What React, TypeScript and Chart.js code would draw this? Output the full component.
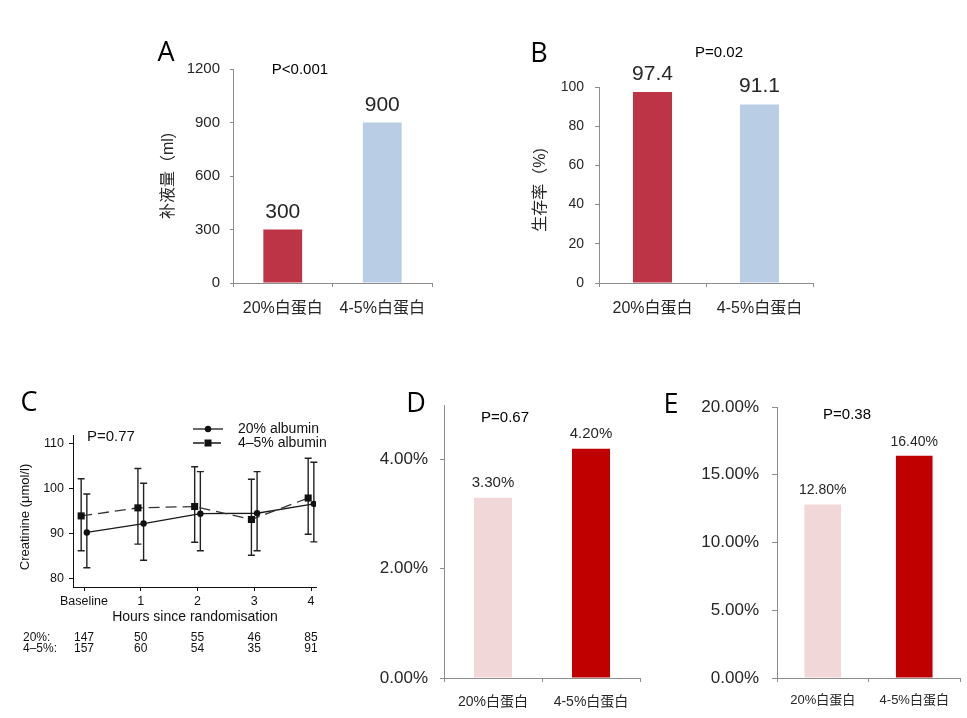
import React, { useEffect, useRef } from "react";
import { Chart, registerables } from "chart.js";
Chart.register(...registerables);

const PAGE_W = 967;
const PAGE_H = 718;
const SANS = "'Liberation Sans', Arial, 'Noto Sans CJK SC', sans-serif";
const LETTER = "'Open Sans', 'Liberation Sans', sans-serif";
const TEXT = "#262626";
const AXIS = "#8c8c8c";

// ---- Panel A: fluid volume ----
const groupLabels = ["20%白蛋白", "4-5%白蛋白"];
const fluidValues = [300, 900];
const fluidTicks = [0, 300, 600, 900, 1200];

// ---- Panel B: survival ----
const survivalValues = [97.4, 91.1];
const survivalTicks = [0, 20, 40, 60, 80, 100];

// ---- Panel C: creatinine ----
const hourLabels = ["Baseline", "1", "2", "3", "4"];
const creat20 = [90.2, 92.2, 94.4, 94.5, 96.6];
const creat20Low = [82.3, 84.0, 86.1, 86.1, 88.1];
const creat20High = [98.8, 101.2, 103.8, 103.8, 105.9];
const creat45 = [93.9, 95.7, 96.0, 93.1, 97.9];
const creat45Low = [86.1, 87.6, 88.0, 85.1, 89.8];
const creat45High = [102.2, 104.5, 104.9, 102.1, 106.8];
const n20 = [147, 50, 55, 46, 85];
const n45 = [157, 60, 54, 35, 91];
const creatTicks = [80, 90, 100, 110];

// ---- Panel D ----
const dValues = [3.3, 4.2];
const dTicks = [0, 2, 4];

// ---- Panel E ----
const eValues = [12.8, 16.4];
const eTicks = [0, 5, 10, 15, 20];

type Area = { l: number; t: number; r: number; b: number };
type TextItem = {
  text: string;
  x: number;
  y: number;
  font: string;
  color?: string;
  align?: CanvasTextAlign;
  rotate?: boolean;
};

const XH = 40;

function fixedLayout(a: Area, yw: number) {
  return {
    padding: {
      left: a.l - yw,
      top: a.t,
      right: PAGE_W - a.r,
      bottom: PAGE_H - a.b - XH,
    },
  };
}

function drawTexts(ctx: CanvasRenderingContext2D, items: TextItem[]) {
  items.forEach((it) => {
    ctx.save();
    ctx.font = it.font;
    ctx.fillStyle = it.color || TEXT;
    ctx.textAlign = it.align || "center";
    ctx.textBaseline = "middle";
    ctx.translate(it.x, it.y);
    if (it.rotate) ctx.rotate(-Math.PI / 2);
    ctx.fillText(it.text, 0, 0);
    ctx.restore();
  });
}

const textPlugin = (items: TextItem[]) => ({
  id: "texts",
  afterDraw(chart: any) {
    drawTexts(chart.ctx, items);
  },
});

interface BarPanel {
  area: Area;
  yw: number;
  values: number[];
  colors: string[];
  yMax: number;
  ticks: number[];
  yFmt: (v: number) => string;
  valFmt: (v: number) => string;
  yTickFont: number;
  xTickFont: number;
  valFont: number;
  valOffset: number;
  barPct: number;
  yTickPad: number;
  xTickPad: number;
  yTickLen: number;
  xTickLen: number;
  texts: TextItem[];
}

function barConfig(p: BarPanel): any {
  return {
    type: "bar",
    data: {
      labels: groupLabels,
      datasets: [
        {
          data: p.values,
          backgroundColor: p.colors,
          barPercentage: p.barPct,
          categoryPercentage: 1,
          borderWidth: 0,
        },
      ],
    },
    options: {
      animation: false,
      responsive: false,
      events: [],
      layout: fixedLayout(p.area, p.yw),
      plugins: {
        legend: { display: false },
        tooltip: { enabled: false },
        title: { display: false },
      },
      scales: {
        x: {
          grid: {
            offset: true,
            drawOnChartArea: false,
            drawTicks: true,
            tickLength: p.xTickLen,
            color: AXIS,
            lineWidth: 1,
          },
          border: { display: true, color: AXIS, width: 1 },
          ticks: {
            font: { family: SANS, size: p.xTickFont },
            color: TEXT,
            padding: p.xTickPad,
            maxRotation: 0,
            autoSkip: false,
          },
          afterFit: (s: any) => {
            s.height = XH;
          },
        },
        y: {
          min: 0,
          max: p.yMax,
          afterBuildTicks: (s: any) => {
            s.ticks = p.ticks.map((v) => ({ value: v }));
          },
          grid: {
            drawOnChartArea: false,
            drawTicks: true,
            tickLength: p.yTickLen,
            color: AXIS,
          },
          border: { display: true, color: AXIS, width: 1 },
          ticks: {
            font: { family: SANS, size: p.yTickFont },
            color: TEXT,
            padding: p.yTickPad,
            callback: (v: any) => p.yFmt(Number(v)),
          },
          afterFit: (s: any) => {
            s.width = p.yw;
          },
        },
      },
    },
    plugins: [
      {
        id: "barLabels",
        afterDatasetsDraw(chart: any) {
          const ctx = chart.ctx;
          const meta = chart.getDatasetMeta(0);
          ctx.save();
          ctx.font = `${p.valFont}px ${SANS}`;
          ctx.fillStyle = TEXT;
          ctx.textAlign = "center";
          ctx.textBaseline = "middle";
          meta.data.forEach((el: any, i: number) => {
            ctx.fillText(p.valFmt(p.values[i]), el.x, el.y - p.valOffset);
          });
          ctx.restore();
        },
      },
      textPlugin(p.texts),
    ],
  };
}

const pct = (v: number) => v.toFixed(2) + "%";

const panelA = barConfig({
  area: { l: 233, t: 69, r: 432, b: 283 },
  yw: 80,
  values: fluidValues,
  colors: ["#BE3447", "#B9CDE5"],
  yMax: 1200,
  ticks: fluidTicks,
  yFmt: (v) => String(v),
  valFmt: (v) => String(v),
  yTickFont: 15,
  xTickFont: 16,
  valFont: 21,
  valOffset: 17,
  barPct: 0.39,
  yTickPad: 10,
  xTickPad: 12,
  yTickLen: 3,
  xTickLen: 4,
  texts: [
    { text: "A", x: 166, y: 53, font: `27px ${LETTER}`, color: "#000" },
    { text: "P<0.001", x: 300, y: 70, font: `15px ${SANS}`, color: "#000" },
    { text: "补液量（ml)", x: 169, y: 176, font: `16px ${SANS}`, rotate: true },
  ],
});

const panelB = barConfig({
  area: { l: 599, t: 87, r: 813, b: 283 },
  yw: 80,
  values: survivalValues,
  colors: ["#BE3447", "#B9CDE5"],
  yMax: 100,
  ticks: survivalTicks,
  yFmt: (v) => String(v),
  valFmt: (v) => v.toFixed(1),
  yTickFont: 14,
  xTickFont: 16,
  valFont: 21,
  valOffset: 18,
  barPct: 0.365,
  yTickPad: 11,
  xTickPad: 12,
  yTickLen: 4,
  xTickLen: 4,
  texts: [
    { text: "B", x: 539, y: 54, font: `27px ${LETTER}`, color: "#000" },
    { text: "P=0.02", x: 719, y: 53, font: `15px ${SANS}`, color: "#000" },
    { text: "生存率（%)", x: 541, y: 190, font: `16px ${SANS}`, rotate: true },
  ],
});

const panelD = barConfig({
  area: { l: 444, t: 405, r: 640, b: 678 },
  yw: 100,
  values: dValues,
  colors: ["#F2D7D8", "#C00000"],
  yMax: 5,
  ticks: dTicks,
  yFmt: pct,
  valFmt: pct,
  yTickFont: 17,
  xTickFont: 14,
  valFont: 15,
  valOffset: 15,
  barPct: 0.388,
  yTickPad: 12,
  xTickPad: 12,
  yTickLen: 4,
  xTickLen: 4,
  texts: [
    { text: "D", x: 416, y: 404, font: `27px ${LETTER}`, color: "#000" },
    { text: "P=0.67", x: 505, y: 418, font: `15px ${SANS}`, color: "#000" },
  ],
});

const panelE = barConfig({
  area: { l: 777, t: 407, r: 960, b: 678 },
  yw: 100,
  values: eValues,
  colors: ["#F2D7D8", "#C00000"],
  yMax: 20,
  ticks: eTicks,
  yFmt: pct,
  valFmt: pct,
  yTickFont: 17,
  xTickFont: 13,
  valFont: 14,
  valOffset: 14,
  barPct: 0.4,
  yTickPad: 13,
  xTickPad: 11,
  yTickLen: 5,
  xTickLen: 4,
  texts: [
    { text: "E", x: 671, y: 405, font: `27px ${LETTER}`, color: "#000" },
    { text: "P=0.38", x: 847, y: 415, font: `15px ${SANS}`, color: "#000" },
  ],
});

const DODGE = 0.05;
const C_AREA: Area = { l: 73, t: 435, r: 316, b: 587 };
const C_YW = 62;

const panelC: any = {
  type: "line",
  data: {
    datasets: [
      {
        label: "4–5% albumin",
        data: creat45.map((v, i) => ({ x: i - DODGE, y: v })),
        borderColor: "#333",
        borderWidth: 1.3,
        borderDash: [11, 6],
        pointStyle: "rect",
        pointRadius: 5,
        pointBackgroundColor: "#111",
        pointBorderWidth: 0,
        fill: false,
        tension: 0,
      },
      {
        label: "20% albumin",
        data: creat20.map((v, i) => ({ x: i + DODGE, y: v })),
        borderColor: "#1a1a1a",
        borderWidth: 1.3,
        pointStyle: "circle",
        pointRadius: 3.2,
        pointBackgroundColor: "#111",
        pointBorderWidth: 0,
        fill: false,
        tension: 0,
      },
    ],
  },
  options: {
    animation: false,
    responsive: false,
    events: [],
    layout: fixedLayout(C_AREA, C_YW),
    plugins: {
      legend: { display: false },
      tooltip: { enabled: false },
      title: { display: false },
    },
    scales: {
      x: {
        type: "linear",
        min: -0.194,
        max: 4.088,
        afterBuildTicks: (s: any) => {
          s.ticks = hourLabels.map((_, i) => ({ value: i }));
        },
        grid: { drawOnChartArea: false, tickLength: 4, color: "#111" },
        border: { display: true, color: "#111", width: 1 },
        ticks: {
          font: { family: SANS, size: 12.5 },
          color: "#111",
          padding: 3,
          maxRotation: 0,
          autoSkip: false,
          callback: (v: any) => hourLabels[Math.round(Number(v))],
        },
        afterFit: (s: any) => {
          s.height = XH;
        },
      },
      y: {
        min: 78,
        max: 112,
        afterBuildTicks: (s: any) => {
          s.ticks = creatTicks.map((v) => ({ value: v }));
        },
        grid: { drawOnChartArea: false, tickLength: 4, color: "#111" },
        border: { display: true, color: "#111", width: 1 },
        ticks: {
          font: { family: SANS, size: 12.5 },
          color: "#111",
          padding: 5,
        },
        afterFit: (s: any) => {
          s.width = C_YW;
        },
      },
    },
  },
  plugins: [
    {
      id: "errorBars",
      beforeDatasetsDraw(chart: any) {
        const ctx = chart.ctx;
        const xs = chart.scales.x;
        const ys = chart.scales.y;
        const sets = [
          { lo: creat45Low, hi: creat45High, d: -DODGE },
          { lo: creat20Low, hi: creat20High, d: DODGE },
        ];
        ctx.save();
        ctx.strokeStyle = "#222";
        ctx.lineWidth = 1.4;
        sets.forEach((s) => {
          s.lo.forEach((lo, i) => {
            const x = xs.getPixelForValue(i + s.d);
            const y1 = ys.getPixelForValue(lo);
            const y2 = ys.getPixelForValue(s.hi[i]);
            ctx.beginPath();
            ctx.moveTo(x, y1);
            ctx.lineTo(x, y2);
            ctx.moveTo(x - 3.5, y1);
            ctx.lineTo(x + 3.5, y1);
            ctx.moveTo(x - 3.5, y2);
            ctx.lineTo(x + 3.5, y2);
            ctx.stroke();
          });
        });
        ctx.restore();
      },
      afterDraw(chart: any) {
        const ctx = chart.ctx;
        const xs = chart.scales.x;
        ctx.save();
        ctx.strokeStyle = "#1a1a1a";
        ctx.fillStyle = "#111";
        ctx.lineWidth = 1.3;
        ctx.beginPath();
        ctx.moveTo(193, 429);
        ctx.lineTo(223, 429);
        ctx.stroke();
        ctx.beginPath();
        ctx.arc(208, 429, 3.2, 0, Math.PI * 2);
        ctx.fill();
        ctx.setLineDash([11, 6]);
        ctx.beginPath();
        ctx.moveTo(193, 443);
        ctx.lineTo(223, 443);
        ctx.stroke();
        ctx.setLineDash([]);
        ctx.fillRect(208 - 3.5, 443 - 3.5, 7, 7);
        ctx.restore();
        drawTexts(ctx, [
          { text: "20% albumin", x: 238, y: 429, font: `14px ${SANS}`, align: "left", color: "#111" },
          { text: "4–5% albumin", x: 238, y: 443, font: `14px ${SANS}`, align: "left", color: "#111" },
          { text: "C", x: 29, y: 403, font: `27px ${LETTER}`, color: "#000" },
          { text: "P=0.77", x: 87, y: 437, font: `15px ${SANS}`, align: "left", color: "#111" },
          { text: "Creatinine (μmol/l)", x: 25, y: 517, font: `13px ${SANS}`, rotate: true, color: "#111" },
          { text: "Hours since randomisation", x: 195, y: 617, font: `14px ${SANS}`, color: "#111" },
          { text: "20%:", x: 23, y: 638, font: `12px ${SANS}`, align: "left", color: "#111" },
          { text: "4–5%:", x: 23, y: 649, font: `12px ${SANS}`, align: "left", color: "#111" },
        ]);
        const rows: TextItem[] = [];
        n20.forEach((n, i) => {
          rows.push({ text: String(n), x: xs.getPixelForValue(i), y: 638, font: `12px ${SANS}`, color: "#111" });
        });
        n45.forEach((n, i) => {
          rows.push({ text: String(n), x: xs.getPixelForValue(i), y: 649, font: `12px ${SANS}`, color: "#111" });
        });
        drawTexts(ctx, rows);
      },
    },
  ],
};

const configs = [panelA, panelB, panelC, panelD, panelE];

export default function App() {
  const refs = useRef<(HTMLCanvasElement | null)[]>([]);
  useEffect(() => {
    const charts = configs.map((cfg, i) => new Chart(refs.current[i] as HTMLCanvasElement, cfg));
    return () => charts.forEach((c) => c.destroy());
  }, []);
  return (
    <div
      style={{
        position: "absolute",
        left: 0,
        top: 0,
        width: PAGE_W,
        height: PAGE_H,
        background: "#fff",
        overflow: "hidden",
      }}
    >
      {configs.map((_, i) => (
        <canvas
          key={i}
          ref={(el) => {
            refs.current[i] = el;
          }}
          width={PAGE_W}
          height={PAGE_H}
          style={{ position: "absolute", left: 0, top: 0, width: PAGE_W, height: PAGE_H }}
        />
      ))}
    </div>
  );
}
